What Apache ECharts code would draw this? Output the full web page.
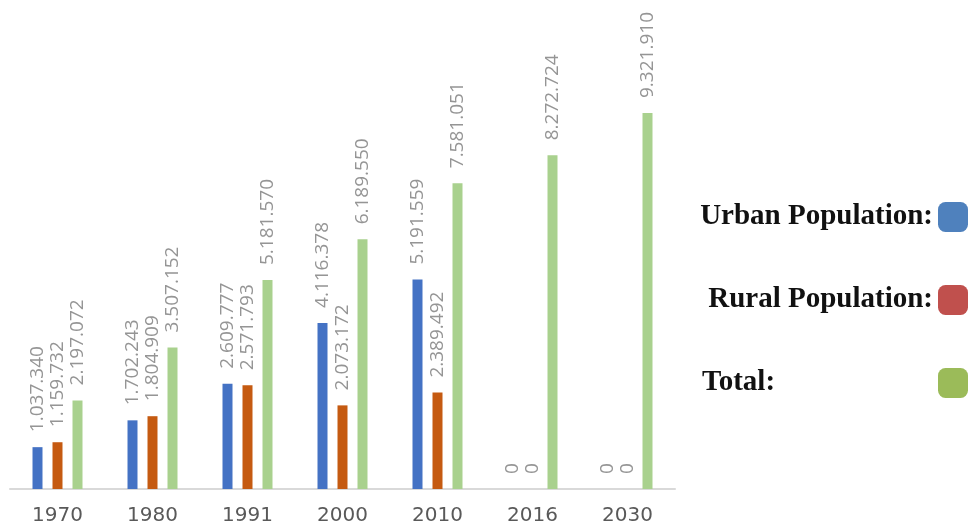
<!DOCTYPE html>
<html>
<head>
<meta charset="utf-8">
<script src="https://cdn.jsdelivr.net/npm/echarts@6/dist/echarts.min.js"></script>
<style>
  html, body { margin: 0; padding: 0; background: #fff; }
  #chart { width: 969px; height: 529px; }
</style>
</head>
<body>
<div id="chart"></div>
<script>
var years = ['1970', '1980', '1991', '2000', '2010', '2016', '2030'];
var urban = [1037340, 1702243, 2609777, 4116378, 5191559, 0, 0];
var rural = [1159732, 1804909, 2571793, 2073172, 2389492, 0, 0];
var total = [2197072, 3507152, 5181570, 6189550, 7581051, 8272724, 9321910];

// bar colours and legend swatch colours differ in the original
var barColors = ['#4472c4', '#c55a11', '#a9d18e'];
var keyColors = ['#4f81bd', '#c0504d', '#9bbb59'];

function dotted(v) {
	return String(v).replace(/\B(?=(\d{3})+(?!\d))/g, '.');
}

var label = {
	show: true,
	position: 'top',
	rotate: 90,
	align: 'left',
	verticalAlign: 'middle',
	distance: 15,
	color: '#959595',
	fontFamily: 'Open Sans',
	fontSize: 19,
	formatter: function(p){ return dotted(p.value); }
};

function makeBar(name, data, color){
	return {
		name: name,
		type: 'bar',
		barWidth: 10,
		barGap: '100%',
		itemStyle: {color: color},
		label: label,
		data: data
	};
}

var chart = echarts.init(document.getElementById('chart'));
chart.setOption({
	animation: false,
	grid: {left: 10, right: 294, top: 5, bottom: 40},
	legend: {
		orient: 'vertical',
		right: 1,
		top: 202,
		padding: 0,
		align: 'right',
		icon: 'roundRect',
		itemWidth: 30,
		itemHeight: 30,
		itemGap: 53,
		selectedMode: false,
		textStyle: {
			fontFamily: 'Liberation Serif',
			fontWeight: 'bold',
			fontSize: 29,
			color: '#111',
			rich: {
				t: {width: 231, align: 'left', fontFamily: 'Liberation Serif', fontWeight: 'bold', fontSize: 29, color: '#111'}
			}
		},
		formatter: function(name){
			return name == 'Total' ? '{t|Total:}' : name + ':';
		},
		data: [
			{name: 'Urban Population', itemStyle: {color: keyColors[0]}},
			{name: 'Rural Population', itemStyle: {color: keyColors[1]}},
			{name: 'Total', itemStyle: {color: keyColors[2]}}
		]
	},
	xAxis: {
		type: 'category',
		data: years,
		axisLine: {lineStyle: {color: '#d9d9d9', width: 2}},
		axisTick: {show: false},
		axisLabel: {color: '#595959', fontFamily: 'DejaVu Sans', fontSize: 20, margin: 17}
	},
	yAxis: {
		type: 'value',
		min: 0,
		max: 12000000,
		show: false,
		splitLine: {show: false}
	},
	series: [
		makeBar('Urban Population', urban, barColors[0]),
		makeBar('Rural Population', rural, barColors[1]),
		makeBar('Total', total, barColors[2])
	]
});
</script>
</body>
</html>
